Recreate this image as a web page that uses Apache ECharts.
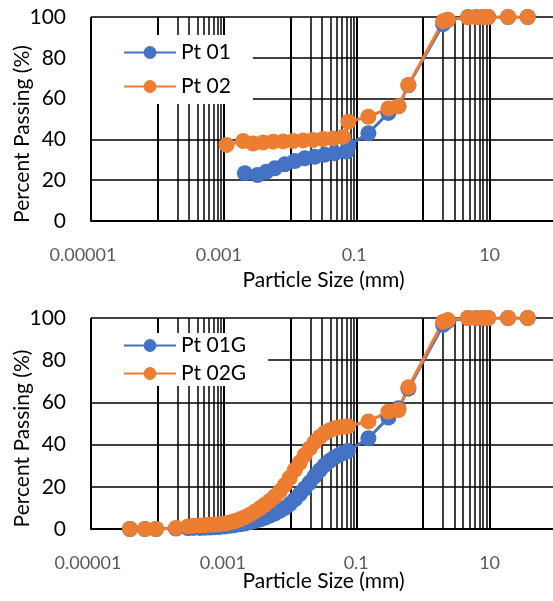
<!DOCTYPE html>
<html>
<head>
<meta charset="utf-8">
<script src="https://cdn.jsdelivr.net/npm/echarts@6/dist/echarts.min.js"></script>
<style>
    html, body { margin: 0; padding: 0; background: #fff; }
    #chart { width: 553px; height: 601px; }
</style>
</head>
<body>
<div id="chart"></div>
<script>
// top chart - hydrometer part
var pt01Size = [0.00207, 0.00321, 0.00438, 0.00585, 0.00827, 0.0117, 0.0165, 0.0233, 0.0330, 0.0467, 0.070];
var pt01Pass = [23.4, 22.5, 24.2, 25.8, 27.8, 29.4, 30.7, 31.5, 32.5, 33.2, 34.0];
var pt02Size = [0.00110, 0.00195, 0.00276, 0.00390, 0.00551, 0.00780, 0.0110, 0.0156, 0.0220, 0.0311, 0.0441, 0.0622];
var pt02Pass = [37.3, 39.2, 38.0, 38.5, 38.9, 39.0, 39.2, 39.5, 39.7, 40.2, 40.5, 41.2];

// sieve part (shared sizes)
var sieveSize = [0.075, 0.15, 0.30, 0.425, 0.60, 2.0, 2.36, 4.75, 6.3, 8.0, 9.5, 19, 37.5];
var pt01Sieve = [37.0, 43.0, 53.0, 56.2, 66.5, 96.5, 98.5, 100, 100, 100, 100, 100, 100];
var pt02Sieve = [48.7, 51.1, 55.2, 56.2, 66.7, 97.9, 98.7, 99.8, 100, 100, 100, 100, 100];

// bottom chart - dense hydrometer readings
var gSize = [0.0000386, 0.0000649, 0.000095, 0.000190, 0.000288, 0.000350, 0.000436, 0.000518, 0.000615, 0.000732,
    0.000871, 0.00104, 0.00123, 0.00146, 0.00174, 0.00207, 0.00246, 0.00292, 0.00347, 0.00414,
    0.00492, 0.00585, 0.00695, 0.00827, 0.00983, 0.0117, 0.0139, 0.0165, 0.0196, 0.0233,
    0.0278, 0.0330, 0.0393, 0.0467, 0.0555, 0.0660, 0.0735];
var pt01GPass = [0, 0, 0, 0.2, 0.4, 0.5, 0.5, 0.6, 0.7, 0.8,
    1.0, 1.2, 1.5, 1.8, 2.2, 2.6, 3.2, 3.8, 4.5, 5.3,
    6.3, 7.3, 8.6, 10.0, 11.8, 14.0, 16.5, 19.2, 22.0, 25.0,
    27.8, 30.3, 32.3, 34.0, 35.3, 36.3, 37.0];
var pt02GPass = [0, 0, 0, 0.5, 1.2, 1.5, 1.7, 1.8, 2.0, 2.1,
    2.3, 2.6, 3.1, 3.8, 4.6, 5.6, 6.8, 8.2, 9.8, 11.5,
    13.3, 15.4, 17.8, 20.8, 24.3, 28.0, 31.5, 35.0, 38.2, 41.2,
    43.6, 45.5, 46.8, 47.7, 48.2, 48.5, 48.7];
var gSieveSize = [0.15, 0.30, 0.425, 0.60, 2.0, 2.36, 4.75, 6.3, 8.0, 9.5, 19, 37.5];
var pt01GSieve = [43.0, 52.8, 57.2, 66.5, 96.7, 98.5, 100, 100, 100, 100, 100, 100];
var pt02GSieve = [51.0, 55.6, 56.4, 67.2, 98.2, 99.0, 100, 100, 100, 100, 100, 100];

// x tick labels (every second decade)
var xLabels = {'-5': '0.00001', '-3': '0.001', '-1': '0.1', '1': '10'};
// decades that get the 2..9 minor grid lines
var minorDecades = [0.0001, 0.01, 1];

var FONT = 'Lato';
var BLUE = '#4472C4';
var ORANGE = '#ED7D31';

function pairs(xs, ys) {
    var out = [];
    for (var i = 0; i < xs.length; i++) out.push([xs[i], ys[i]]);
    return out;
}

var minorLines = [];
minorDecades.forEach(function (d) {
    for (var k = 2; k <= 9; k++) minorLines.push({xAxis: k * d});
});

function xAxisFor(idx, nameGap, shifts) {
    return {
        type: 'log',
        logBase: 10,
        gridIndex: idx,
        min: 0.00001,
        max: 100,
        name: 'Particle Size (mm)',
        nameLocation: 'middle',
        nameGap: nameGap,
        nameMoveOverlap: false,
        nameTextStyle: {fontFamily: FONT, fontSize: 21, color: '#000'},
        axisLine: {show: true, lineStyle: {color: '#000', width: 2}},
        axisTick: {show: false},
        splitLine: {show: true, lineStyle: {color: '#000', width: 2}},
        axisLabel: {
            margin: 25,
            fontFamily: FONT,
            fontSize: 18,
            color: '#595959',
            formatter: function (v) {
                var e = Math.round(Math.log(v) / Math.LN10);
                var t = xLabels[String(e)];
                if (!t) return '';
                return '{s' + (e + 5) + '|' + t + '}';
            },
            rich: {
                s0: {padding: [0, shifts[0], 0, 0]},
                s2: {padding: [0, shifts[1], 0, 0]},
                s4: {padding: [0, shifts[2], 0, 0]},
                s6: {padding: [0, shifts[3], 0, 0]}
            }
        }
    };
}

function yAxisFor(idx) {
    return {
        type: 'value',
        gridIndex: idx,
        min: 0,
        max: 100,
        interval: 20,
        name: 'Percent Passing (%)',
        nameLocation: 'middle',
        nameGap: 58,
        nameMoveOverlap: false,
        nameTextStyle: {fontFamily: FONT, fontSize: 21, color: '#000', padding: [0, 30, 0, 0]},
        axisLine: {show: false},
        axisTick: {show: false},
        splitLine: {show: true, lineStyle: {color: '#000', width: 1.6}},
        axisLabel: {margin: 25, fontFamily: FONT, fontSize: 21, color: '#000'}
    };
}

function lineSeries(name, color, idx, data, withGrid) {
    var s = {
        name: name,
        type: 'line',
        xAxisIndex: idx,
        yAxisIndex: idx,
        data: data,
        symbol: 'circle',
        symbolSize: 16,
        itemStyle: {color: color},
        lineStyle: {color: color, width: 3},
        emphasis: {disabled: true},
        animation: false
    };
    if (withGrid) {
        s.markLine = {
            silent: true,
            z: 1,
            precision: 8,
            symbol: ['none', 'none'],
            label: {show: false},
            lineStyle: {color: '#000', width: 1.5, type: 'solid'},
            emphasis: {disabled: true},
            animation: false,
            data: minorLines
        };
    }
    return s;
}

function legendFor(names, top, gap, padTop) {
    return {
        data: names,
        orient: 'vertical',
        left: 92,
        top: top,
        itemWidth: 52,
        itemHeight: 16,
        itemGap: gap,
        padding: [padTop, 22, padTop, 31],
        backgroundColor: '#fff',
        textStyle: {fontFamily: FONT, fontSize: 21, color: '#000'}
    };
}

var chart = echarts.init(document.getElementById('chart'));

chart.setOption({
    animation: false,
    backgroundColor: '#fff',
    grid: [
        {left: 91, top: 17, height: 204, right: -3, outerBoundsMode: 'none', containLabel: false},
        {left: 91, top: 318, height: 211, right: -3, outerBoundsMode: 'none', containLabel: false}
    ],
    legend: [
        legendFor(['Pt 01', 'Pt 02'], 35, 13, 7),
        legendFor(['Pt 01G', 'Pt 02G'], 333, 7, 2)
    ],
    xAxis: [
        xAxisFor(0, 49, [16, 10, 5, 0]),
        xAxisFor(1, 42, [6, 2, 1, 0])
    ],
    yAxis: [yAxisFor(0), yAxisFor(1)],
    series: [
        lineSeries('Pt 01', BLUE, 0, pairs(pt01Size, pt01Pass).concat(pairs(sieveSize, pt01Sieve)), true),
        lineSeries('Pt 02', ORANGE, 0, pairs(pt02Size, pt02Pass).concat(pairs(sieveSize, pt02Sieve)), false),
        lineSeries('Pt 01G', BLUE, 1, pairs(gSize, pt01GPass).concat(pairs(gSieveSize, pt01GSieve)), true),
        lineSeries('Pt 02G', ORANGE, 1, pairs(gSize, pt02GPass).concat(pairs(gSieveSize, pt02GSieve)), false)
    ]
});
</script>
</body>
</html>
